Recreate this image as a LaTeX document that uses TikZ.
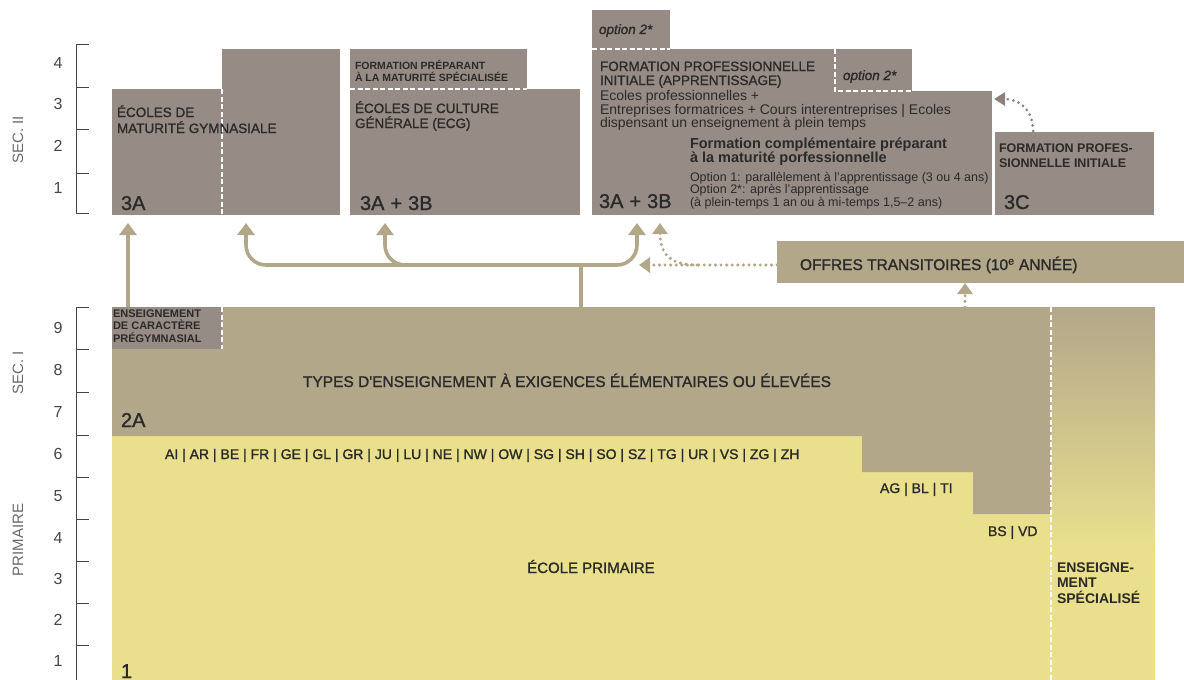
\documentclass[tikz,border=0pt]{standalone}
\usepackage{fontspec}
\setmainfont{Liberation Sans}
\newfontfamily\medfont{Liberation Sans}[FakeBold=1.3]
\usetikzlibrary{arrows.meta}
\definecolor{greyb}{HTML}{978C85}
\definecolor{tanc}{HTML}{B3A78A}
\definecolor{yel}{HTML}{E9DF8C}
\definecolor{txt}{HTML}{2A2A2A}
\definecolor{axc}{HTML}{454545}
\definecolor{axl}{HTML}{6A6A6A}
\definecolor{dotc}{HTML}{8C817B}
\begin{document}
\begin{tikzpicture}[x=1pt,y=-1pt,
  xbox/.style={fill=greyb, draw=none, inner sep=0pt, outer sep=0pt, anchor=north west},
  xtan/.style={xbox, fill=tanc},
  xt/.style={anchor=base west, inner sep=0pt, outer sep=0pt, text=txt},
  xcaps/.style={xt, font=\medfont\fontsize{13.5}{15}\selectfont},
  xbold/.style={xt, font=\bfseries\fontsize{12.5}{14}\selectfont},
  xtiny/.style={xt, font=\bfseries\fontsize{10.5}{12}\selectfont},
  xbig/.style={xt, font=\medfont\fontsize{20}{20}\selectfont},
  xbody/.style={xt, font=\fontsize{14}{14}\selectfont},
  xsmall/.style={xt, font=\fontsize{12.5}{12}\selectfont},
  xital/.style={xt, font=\medfont\itshape\fontsize{13.5}{14}\selectfont},
  xnum/.style={anchor=center, inner sep=0pt, text=axc, font=\fontsize{16}{16}\selectfont},
  xsec/.style={anchor=center, inner sep=0pt, text=axl, rotate=90, font=\fontsize{15}{15}\selectfont},
  wdash/.style={draw=white, line width=1.3pt, dash pattern=on 5pt off 2.5pt},
  xaxis/.style={draw=axc, line width=0.9pt},
  xflow/.style={draw=tanc, line width=3.6pt, -{Triangle[width=17pt,length=12pt]}},
  xline/.style={draw=tanc, line width=3.6pt},
  xdots/.style={draw=tanc, line width=3.4pt, line cap=round, dash pattern=on 0pt off 5.6pt, -{Triangle[width=15pt,length=11pt]}},
  xdotg/.style={draw=dotc, line width=3pt, line cap=round, dash pattern=on 0pt off 5.6pt, -{Triangle[width=13pt,length=11pt]}},
]
\useasboundingbox (0,0) rectangle (1184,680);

% ---------- axes ----------
\draw[xaxis] (89,44) -- (76,44) -- (76,213) -- (89,213);
\foreach \yy in {87,129,173} \draw[xaxis] (76,\yy) -- (89,\yy);
\draw[xaxis] (89,307) -- (76,307) -- (76,680);
\foreach \yy in {349,392,435,477,519,561,603,645} \draw[xaxis] (76,\yy) -- (89,\yy);
\node[xnum] (y4) at (58,63) {4};
\node[xnum] (y3) at (58,104) {3};
\node[xnum] (y2) at (58,146) {2};
\node[xnum] (y1) at (58,188) {1};
\node[xnum] (s9) at (58,328) {9};
\node[xnum] (s8) at (58,370) {8};
\node[xnum] (s7) at (58,412) {7};
\node[xnum] (s6) at (58,454) {6};
\node[xnum] (p5) at (58,496) {5};
\node[xnum] (p4) at (58,538) {4};
\node[xnum] (p3) at (58,579) {3};
\node[xnum] (p2) at (58,620) {2};
\node[xnum] (p1) at (58,661) {1};
\node[xsec] (secII) at (18,140) {SEC. II};
\node[xsec] (secI) at (18,373) {SEC. I};
\node[xsec] (prim) at (18,540) {PRIMAIRE};

% ---------- secondary II ----------
\node[xbox, minimum width=110, minimum height=126] (gymA) at (112,89) {};
\node[xbox, minimum width=118, minimum height=166] (gymB) at (222,49) {};
\draw[wdash] (gymA.north east) -- (gymA.south east);
\node[xbox, minimum width=230, minimum height=126] (ecg) at (350,89) {};
\node[xbox, minimum width=177, minimum height=40] (fms) at (350,49) {};
\draw[wdash] (fms.south west) -- (fms.south east);
\node[xbox, minimum width=400, minimum height=124] (fpi) at (592,91) {};
\node[xbox, minimum width=243, minimum height=42] (fpitop) at (592,49) {};
\node[xbox, minimum width=77, minimum height=42] (opt2b) at (835,49) {};
\draw[wdash] (opt2b.north west) -- (opt2b.south west) -- (opt2b.south east);
\node[xbox, minimum width=78, minimum height=39] (opt2a) at (592,10) {};
\draw[wdash] (opt2a.south west) -- (opt2a.south east);
\node[xbox, minimum width=159, minimum height=83] (fpc) at (995,132) {};

\node[xcaps] (g1) at (117,117) {ÉCOLES DE};
\node[xcaps] (g2) at (117,133) {MATURITÉ GYMNASIALE};
\node[xbig] (n3a) at (121,210) {3A};
\node[xtiny] (f1) at (355,69) {FORMATION PRÉPARANT};
\node[xtiny] (f2) at (355,81) {À LA MATURITÉ SPÉCIALISÉE};
\node[xcaps] (e1) at (355,113) {ÉCOLES DE CULTURE};
\node[xcaps] (e2) at (355,128) {GÉNÉRALE (ECG)};
\node[xbig] (n3ab) at (360,210) {3A\hspace{6pt}+\hspace{6pt}3B};
\node[xital] (o2a) at (599,34) {option 2*};
\node[xcaps] (fp1) at (600,71) {FORMATION PROFESSIONNELLE};
\node[xcaps] (fp2) at (600,85) {INITIALE (APPRENTISSAGE)};
\node[xital] (o2b) at (843,80) {option 2*};
\node[xbody] (b1) at (600,100) {Ecoles professionnelles +};
\node[xbody] (b2) at (600,114) {Entreprises formatrices + Cours interentreprises | Ecoles};
\node[xbody] (b3) at (600,127) {dispensant un enseignement à plein temps};
\node[xt, font=\bfseries\fontsize{14.5}{14}\selectfont] (c1t) at (690,148) {Formation complémentaire préparant};
\node[xt, font=\bfseries\fontsize{14.5}{14}\selectfont] (c2t) at (690,162.5) {à la maturité porfessionnelle};
\node[xsmall] (op1) at (690,181) {Option 1: parallèlement à l'apprentissage (3 ou 4 ans)};
\node[xsmall] (op2) at (690,193) {Option 2*: après l'apprentissage};
\node[xsmall] (op3) at (690,206) {(à plein-temps 1 an ou à mi-temps 1,5\textendash2 ans)};
\node[xbig] (n3ab2) at (599,208) {3A\hspace{6pt}+\hspace{6pt}3B};
\node[xbold] (pc1) at (999,152) {FORMATION PROFES-};
\node[xbold] (pc2) at (999,167) {SIONNELLE INITIALE};
\node[xbig] (n3c) at (1004,209) {3C};

% ---------- transitional ----------
\node[xtan, minimum width=407, minimum height=42] (off) at (777,241) {};
\node[xt, font=\medfont\fontsize{15.5}{15}\selectfont] (offt) at (800,270) {OFFRES TRANSITOIRES (10\textsuperscript{e} ANNÉE)};

% ---------- secondary I and primary ----------
\fill[yel] (112,436) rectangle (1051,680);
\fill[tanc] (112,307) -- (1051,307) -- (1051,514) -- (973,514) -- (973,472) -- (862,472) -- (862,436) -- (112,436) -- cycle;
\shade[top color=tanc, bottom color=yel] (1051,307) rectangle (1155,545);
\fill[yel] (1051,544.5) rectangle (1155,680);
\node[xbox, minimum width=110, minimum height=42] (pregym) at (112,307) {};
\draw[wdash] (pregym.north east) -- (pregym.south east);
\draw[wdash] (1051,307) -- (1051,680);

\node[xtiny, font=\bfseries\fontsize{11}{12}\selectfont] (pg1) at (113,317) {ENSEIGNEMENT};
\node[xtiny, font=\bfseries\fontsize{11}{12}\selectfont] (pg2) at (113,329.5) {DE CARACTÈRE};
\node[xtiny, font=\bfseries\fontsize{11}{12}\selectfont] (pg3) at (113,342) {PRÉGYMNASIAL};
\node[xt, anchor=base, font=\medfont\fontsize{15.5}{15}\selectfont] (types) at (567,387) {TYPES D'ENSEIGNEMENT À EXIGENCES ÉLÉMENTAIRES OU ÉLEVÉES};
\node[xbig] (n2a) at (121,427) {2A};
\node[xt, font=\medfont\fontsize{14}{14}\selectfont] (cant) at (165,459) {AI | AR | BE | FR | GE | GL | GR | JU | LU | NE | NW | OW | SG | SH | SO | SZ | TG | UR | VS | ZG | ZH};
\node[xt, font=\medfont\fontsize{14}{14}\selectfont] (agbl) at (880,493) {AG | BL | TI};
\node[xt, font=\medfont\fontsize{14}{14}\selectfont] (bsvd) at (988,536) {BS | VD};
\node[xt, anchor=base, font=\medfont\fontsize{15}{15}\selectfont] (ecole) at (591,573) {ÉCOLE PRIMAIRE};
\node[xbold, font=\bfseries\fontsize{14}{14}\selectfont] (es1) at (1057,572) {ENSEIGNE-};
\node[xbold, font=\bfseries\fontsize{14}{14}\selectfont] (es2) at (1057,587.5) {MENT};
\node[xbold, font=\bfseries\fontsize{14}{14}\selectfont] (es3) at (1057,603) {SPÉCIALISÉ};
\node[xbig] (n1) at (121,678) {1};

% ---------- connectors ----------
\coordinate (a1) at (128,223);
\coordinate (sTop) at (581,307);
\coordinate (j) at (581,265);
\coordinate (a2) at (246,223);
\coordinate (a3) at (385,223);
\coordinate (m3) at (430,265);
\coordinate (a4) at (637,223);
\coordinate (a5) at (639,265);
\coordinate (a6) at (660,223);
\coordinate (d0) at (697,265);
\coordinate (a7) at (965,307);
\coordinate (q1) at (1033,131);
\coordinate (q2) at (994,99);

\draw[xflow] (pregym.north -| a1) -- (a1);
\draw[xline] (sTop) -- (j);
\draw[xflow, rounded corners=20pt] (j) -- (a2 |- j) -- (a2);
\draw[xflow, rounded corners=20pt] (j) -- (a4 |- j) -- (a4);
\draw[xflow, rounded corners=20pt] (m3) -- (a3 |- m3) -- (a3);
\draw[xdots] (off.west |- j) -- (a5);
\draw[xdots] (d0) .. controls (668,265) and (660,252) .. (a6);
\draw[xdots] (a7) -- (a7 |- off.south);
\draw[xdotg] (q1) .. controls (1033,108) and (1018,99) .. (q2);
\end{tikzpicture}
\end{document}
